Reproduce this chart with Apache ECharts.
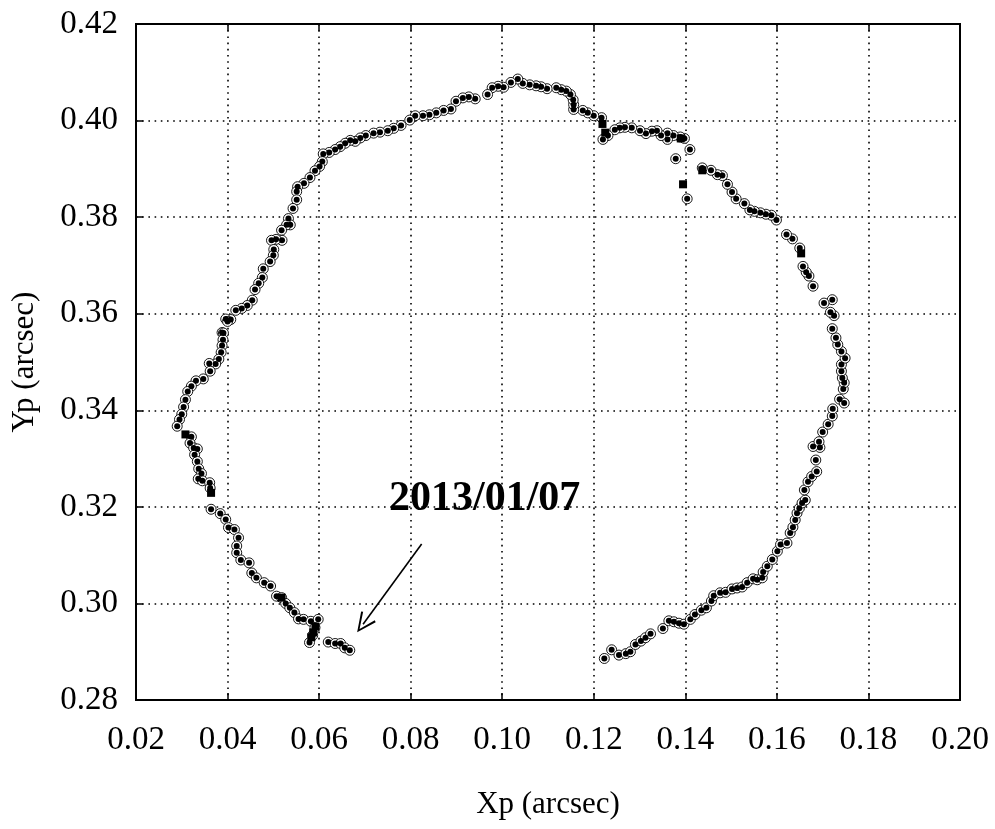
<!DOCTYPE html>
<html>
<head>
<meta charset="utf-8">
<title>Xp / Yp</title>
<script src="https://cdn.jsdelivr.net/npm/echarts@6/dist/echarts.min.js"></script>
<style>
  html, body { margin: 0; padding: 0; background: #fff; }
  #box { width: 995px; height: 829px; }
</style>
</head>
<body>
<div id="box"></div>
<script>
// 极移坐标 (arcsec)，按时间顺序
const xp = [
  0.1223, 0.1239, 0.1255, 0.1270, 0.1280, 0.1291, 0.1303, 0.1313, 0.1324, 0.1351, 0.1364, 0.1375, 0.1386, 0.1397,
  0.1411, 0.1421, 0.1435, 0.1446, 0.1457, 0.1462, 0.1476, 0.1488, 0.1502, 0.1513, 0.1524, 0.1535, 0.1548, 0.1557,
  0.1568, 0.1570, 0.1579, 0.1590, 0.1601, 0.1608, 0.1622, 0.1629, 0.1635, 0.1640, 0.1644, 0.1649, 0.1655, 0.1662,
  0.1660, 0.1668, 0.1676, 0.1687, 0.1685, 0.1694, 0.1679, 0.1692, 0.1700, 0.1712, 0.1721, 0.1722,
  0.1737, 0.1747, 0.1745, 0.1747, 0.1743, 0.1741, 0.1741, 0.1749, 0.1741, 0.1733, 0.1729, 0.1721, 0.1725, 0.1717,
  0.1721, 0.1703, 0.1679, 0.1670, 0.1664, 0.1657, 0.1650, 0.1634, 0.1621, 0.1599, 0.1588, 0.1576, 0.1564, 0.1551,
  0.1541, 0.1529, 0.1511, 0.1502, 0.1492, 0.1481, 0.1470, 0.1456, 0.1437, 0.1404, 0.1379,
  0.1410, 0.1398, 0.1389, 0.1374, 0.1361, 0.1361, 0.1347, 0.1338, 0.1327, 0.1314, 0.1301, 0.1283, 0.1268, 0.1257,
  0.1246, 0.1231, 0.1220, 0.1217, 0.1200, 0.1187, 0.1176, 0.1156, 0.1156, 0.1155, 0.1149, 0.1140, 0.1129, 0.1118,
  0.1098, 0.1085, 0.1074, 0.1060, 0.1045, 0.1034, 0.1019, 0.1003, 0.0991, 0.0978, 0.0968, 0.0941, 0.0927, 0.0914,
  0.0899, 0.0888, 0.0872, 0.0856, 0.0841, 0.0827,
  0.0810, 0.0798, 0.0779, 0.0763, 0.0750, 0.0733, 0.0719, 0.0702, 0.0690, 0.0679, 0.0668, 0.0657, 0.0646, 0.0635,
  0.0622, 0.0609, 0.0607, 0.0601, 0.0591, 0.0580, 0.0567, 0.0553, 0.0551, 0.0551, 0.0543, 0.0533, 0.0537, 0.0529,
  0.0518, 0.0519, 0.0506, 0.0496, 0.0501, 0.0500, 0.0493, 0.0478, 0.0476, 0.0468, 0.0460, 0.0454, 0.0443, 0.0431,
  0.0418, 0.0407, 0.0396, 0.0400,
  0.0388, 0.0391, 0.0390, 0.0388, 0.0386, 0.0381, 0.0374, 0.0360, 0.0362, 0.0347, 0.0331, 0.0321, 0.0313, 0.0308,
  0.0304, 0.0300, 0.0295, 0.0290, 0.0321, 0.0318, 0.0326, 0.0334, 0.0328, 0.0334, 0.0337, 0.0343, 0.0336, 0.0345,
  0.0361, 0.0362, 0.0364, 0.0384, 0.0396, 0.0402, 0.0415, 0.0424, 0.0420, 0.0420, 0.0429, 0.0447, 0.0453, 0.0463,
  0.0480, 0.0494, 0.0507, 0.0518, 0.0527, 0.0536, 0.0546, 0.0555, 0.0566, 0.0582, 0.0598, 0.0591, 0.0586, 0.0579,
  0.0620, 0.0635, 0.0647, 0.0656, 0.0667
];
const yp = [
  0.2886, 0.2904, 0.2893, 0.2896, 0.2900, 0.2915, 0.2922, 0.2929, 0.2937, 0.2948, 0.2964, 0.2962, 0.2959, 0.2957,
  0.2967, 0.2977, 0.2986, 0.2991, 0.3005, 0.3016, 0.3022, 0.3023, 0.3030, 0.3032, 0.3034, 0.3043, 0.3051, 0.3049,
  0.3053, 0.3065, 0.3077, 0.3091, 0.3108, 0.3122, 0.3125, 0.3146, 0.3158, 0.3173, 0.3187, 0.3197, 0.3208, 0.3214,
  0.3235, 0.3252, 0.3263, 0.3273, 0.3297, 0.3323, 0.3325, 0.3335, 0.3355, 0.3371, 0.3388, 0.3403,
  0.3423, 0.3415, 0.3444, 0.3457, 0.3467, 0.3481, 0.3495, 0.3508, 0.3522, 0.3536, 0.3550, 0.3569, 0.3596, 0.3603,
  0.3629, 0.3622, 0.3657, 0.3678, 0.3686, 0.3698, 0.3736, 0.3755, 0.3764, 0.3794, 0.3804, 0.3806, 0.3809, 0.3812,
  0.3815, 0.3828, 0.3838, 0.3852, 0.3868, 0.3886, 0.3888, 0.3897, 0.3902, 0.3838, 0.3921,
  0.3940, 0.3963, 0.3966, 0.3969, 0.3961, 0.3974, 0.3969, 0.3979, 0.3978, 0.3973, 0.3979, 0.3985, 0.3986, 0.3985,
  0.3981, 0.3969, 0.3961, 0.4006, 0.4010, 0.4016, 0.4021, 0.4023, 0.4033, 0.4043, 0.4054, 0.4061, 0.4064, 0.4068,
  0.4066, 0.4070, 0.4072, 0.4074, 0.4077, 0.4086, 0.4079, 0.4069, 0.4071, 0.4068, 0.4054, 0.4045, 0.4049, 0.4047,
  0.4040, 0.4024, 0.4021, 0.4016, 0.4012, 0.4010,
  0.4010, 0.4001, 0.3990, 0.3984, 0.3979, 0.3976, 0.3974, 0.3969, 0.3964, 0.3957, 0.3959, 0.3953, 0.3946, 0.3940,
  0.3934, 0.3931, 0.3915, 0.3905, 0.3896, 0.3882, 0.3870, 0.3863, 0.3853, 0.3836, 0.3818, 0.3797, 0.3784, 0.3784,
  0.3773, 0.3752, 0.3754, 0.3752, 0.3733, 0.3721, 0.3708, 0.3693, 0.3675, 0.3663, 0.3650, 0.3628, 0.3617, 0.3611,
  0.3607, 0.3588, 0.3589, 0.3584,
  0.3561, 0.3560, 0.3546, 0.3534, 0.3520, 0.3506, 0.3496, 0.3497, 0.3481, 0.3465, 0.3461, 0.3450, 0.3439, 0.3422,
  0.3407, 0.3392, 0.3381, 0.3367, 0.3345, 0.3332, 0.3322, 0.3320, 0.3308, 0.3294, 0.3279, 0.3269, 0.3258, 0.3254,
  0.3250, 0.3239, 0.3195, 0.3186, 0.3174, 0.3157, 0.3153, 0.3136, 0.3119, 0.3105, 0.3090, 0.3084, 0.3063, 0.3053,
  0.3043, 0.3036, 0.3015, 0.3012, 0.3000, 0.2991, 0.2981, 0.2968, 0.2967, 0.2963, 0.2967, 0.2950, 0.2934, 0.2919,
  0.2920, 0.2917, 0.2917, 0.2908, 0.2903
];

// 方块标记的点
const sqX = [0.1219, 0.1225, 0.1395, 0.1390, 0.1437, 0.1653, 0.0308, 0.0364, 0.0518, 0.0592, 0.0587, 0.0583];
const sqY = [0.3993, 0.3975, 0.3868, 0.3963, 0.3897, 0.3725, 0.3350, 0.3229, 0.3012, 0.2952, 0.2940, 0.2930];

// 坐标轴
const xMin = 0.02, xMax = 0.20, yMin = 0.28, yMax = 0.42, step = 0.02;

// 标注
const noteText = '2013/01/07';
const arrowFrom = [0.0824, 0.3123];
const arrowTo = [0.0696, 0.2957];

const zip = (a, b) => a.map((v, i) => [v, b[i]]);
const points = zip(xp, yp);
const squares = zip(sqX, sqY);

const font = '"Liberation Serif", "DejaVu Serif", serif';

let chart = echarts.init(document.getElementById('box'));

const gridLine = {show: true, lineStyle: {color: '#000', width: 1.6, type: [1.6, 4.6]}};

let option = {
  animation: false,
  backgroundColor: '#fff',
  textStyle: {fontFamily: font},
  grid: {left: 136, right: 35, top: 24, bottom: 129, show: true, borderColor: '#000', borderWidth: 2},
  xAxis: [{
    type: 'value', min: xMin, max: xMax, interval: step,
    name: 'Xp (arcsec)', nameLocation: 'middle', nameGap: 89,
    nameTextStyle: {fontFamily: font, fontSize: 31, color: '#000'},
    axisLine: {show: true, onZero: false, lineStyle: {color: '#000', width: 2}},
    axisTick: {show: true, inside: true, length: 7, lineStyle: {color: '#000', width: 1.5}},
    axisLabel: {fontFamily: font, fontSize: 33, color: '#000', margin: 24, formatter: v => v.toFixed(2)},
    splitLine: gridLine
  }, {
    type: 'value', min: xMin, max: xMax, interval: step, position: 'top',
    axisLine: {show: false},
    axisTick: {show: true, inside: true, length: 7, lineStyle: {color: '#000', width: 1.5}},
    axisLabel: {show: false},
    splitLine: {show: false}
  }],
  yAxis: {
    type: 'value', min: yMin, max: yMax, interval: step,
    name: 'Yp (arcsec)', nameLocation: 'middle', nameGap: 96, nameRotate: 90,
    nameTextStyle: {fontFamily: font, fontSize: 31, color: '#000'},
    axisLine: {show: true, onZero: false, lineStyle: {color: '#000', width: 2}},
    axisTick: {show: true, inside: true, length: 7, lineStyle: {color: '#000', width: 1.5}},
    axisLabel: {fontFamily: font, fontSize: 33, color: '#000', margin: 18, formatter: v => v.toFixed(2)},
    splitLine: gridLine
  },
  series: [
    { // 外圈
      type: 'scatter', data: points, symbol: 'circle', symbolSize: 10,
      itemStyle: {color: '#fff', borderColor: '#000', borderWidth: 0.9, opacity: 1},
      markLine: {
        silent: true,
        symbol: ['none', 'path://M5,0 L10,12 L9,12.6 L5,2.6 L1,12.6 L0,12 Z'],
        symbolSize: [18, 20],
        lineStyle: {color: '#000', width: 1.6, type: 'solid'},
        label: {show: false},
        data: [[{coord: arrowFrom}, {coord: arrowTo}]]
      }
    },
    { // 方块
      type: 'scatter', data: squares, symbol: 'rect', symbolSize: 8,
      itemStyle: {color: '#000', opacity: 1}
    },
    { // 实心点
      type: 'scatter', data: points, symbol: 'circle', symbolSize: 6,
      itemStyle: {color: '#000', opacity: 1}
    }
  ],
  graphic: [{
    type: 'text', left: 389, top: 478,
    style: {text: noteText, font: 'bold 42px ' + font, fill: '#000'}
  }]
};

chart.setOption(option);
</script>
</body>
</html>
